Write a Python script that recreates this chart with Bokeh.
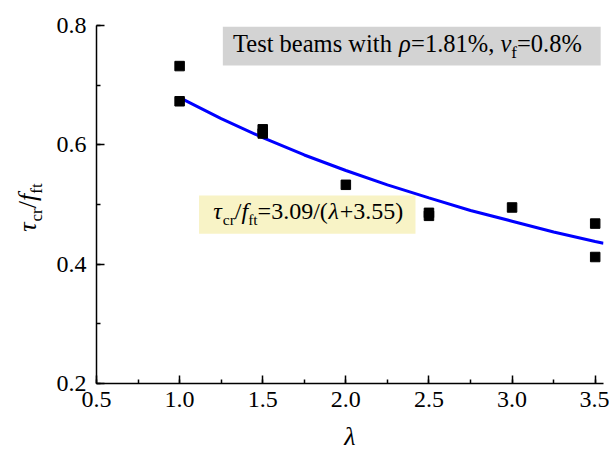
import math
from bokeh.plotting import figure
from bokeh.models import Label, BoxAnnotation, SingleIntervalTicker, Range1d, PrintfTickFormatter
from bokeh.layouts import row
from bokeh.embed import file_html
from bokeh.resources import INLINE

# ---- data ----
lam_pts = [1.0, 1.0, 1.5, 1.5, 2.0, 2.5, 2.5, 3.0, 3.5, 3.5]
ratio_pts = [0.732, 0.673, 0.626, 0.619, 0.533, 0.486, 0.481, 0.495, 0.468, 0.412]

# fitted curve tau_cr/f_ft = 3.09/(lambda+3.55)
fit_lam = [1.0, 1.25, 1.5, 1.75, 2.0, 2.25, 2.5, 2.75, 3.0, 3.25, 3.5, 3.55]
fit_val = [0.679, 0.644, 0.612, 0.583, 0.557, 0.533, 0.511, 0.490, 0.472, 0.454, 0.438, 0.435]

x_ticks = [0.5, 1.0, 1.5, 2.0, 2.5, 3.0, 3.5]
y_ticks = [0.2, 0.4, 0.6, 0.8]

FONT = "'Liberation Serif', 'Times New Roman', serif"
LW = 50  # width of the strip holding the rotated y title

p = figure(width=609 - LW, height=454, output_backend="svg", toolbar_location=None,
           x_range=Range1d(0.5, 3.55), y_range=Range1d(0.2, 0.8),
           min_border_left=96 - LW, min_border_right=6, min_border_top=25, min_border_bottom=71)
p.outline_line_color = None
p.xgrid.visible = False
p.ygrid.visible = False

p.line(fit_lam, fit_val, line_color="#0000FF", line_width=3)
p.scatter(lam_pts, ratio_pts, marker="square", size=9.5, fill_color="black", line_color="black")

for ax, ticks in ((p.xaxis[0], x_ticks), (p.yaxis[0], y_ticks)):
    ax.ticker = SingleIntervalTicker(interval=ticks[1] - ticks[0], num_minor_ticks=2)
    ax.formatter = PrintfTickFormatter(format="%.1f")
    ax.major_tick_in = 8
    ax.major_tick_out = 0
    ax.minor_tick_in = 4
    ax.minor_tick_out = 0
    ax.axis_line_color = "black"
    ax.axis_line_width = 1.5
    ax.major_tick_line_width = 1.5
    ax.minor_tick_line_width = 1.5
    ax.major_tick_line_color = "black"
    ax.minor_tick_line_color = "black"
    ax.major_label_text_font = FONT
    ax.major_label_text_font_size = "24px"
    ax.major_label_text_color = "black"

p.xaxis[0].major_label_standoff = 8
p.yaxis[0].major_label_standoff = 10
p.xaxis[0].axis_label = "λ"
p.xaxis[0].axis_label_text_font = FONT
p.xaxis[0].axis_label_text_font_style = "italic"
p.xaxis[0].axis_label_text_font_size = "26px"
p.xaxis[0].axis_label_standoff = 12
p.xaxis[0].axis_label_text_color = "black"

# annotation boxes
p.add_layout(BoxAnnotation(left=1.26, right=3.533, top=0.798, bottom=0.733,
                           fill_color="#D3D3D3", fill_alpha=1, line_color=None, level="underlay"))
p.add_layout(BoxAnnotation(left=1.117, right=2.419, top=0.515, bottom=0.451,
                           fill_color="#F8F3C6", fill_alpha=1, line_color=None, level="underlay"))

# approximate advance widths (em/1000) for Times-metric font
W = {"T": 611, "e": 444, "s": 389, "t": 278, " ": 250, "b": 500, "a": 444, "m": 778,
     "w": 722, "i": 278, "h": 500, "=": 564, ".": 250, "%": 833, ",": 250, "/": 278,
     "(": 333, ")": 333, "+": 564, "f": 333, "c": 444, "r": 333, "v": 444,
     "ρ": 500, "τ": 440, "λ": 500}
for d in "0123456789":
    W[d] = 500
MID = 0.3375  # distance middle -> baseline, in em


def width(txt, size, italic=False):
    tot = 0
    for ch in txt:
        w = W.get(ch, 500)
        if italic and ch == "f":
            w = 278
        tot += w
    return tot * size / 1000.0


def rich(fig, x, y, segs, main, angle=0.0):
    """x, y: data anchor = text start on the main-text middle line."""
    pos = 0.0
    for txt, italic, size, shift in segs:
        w = width(txt, size, italic)
        perp = main * MID + shift - size * MID
        along = pos + w / 2.0
        if angle == 0.0:
            xo, yo = along, -perp
        else:
            xo, yo = perp, along
        fig.add_layout(Label(x=x, y=y, x_offset=xo, y_offset=yo, text=txt, angle=angle,
                             text_font=FONT, text_font_size=f"{size}px",
                             text_font_style="italic" if italic else "normal",
                             text_color="black", text_align="center", text_baseline="middle"))
        pos += w


S, SS, SH = 24.5, 17, 6
rich(p, 1.316, 0.769, [("Test beams with ", False, S, 0), ("ρ", True, S, 0), ("=1.81%, ", False, S, 0),
                       ("v", True, S, 0), ("f", False, SS, SH), ("=0.8%", False, S, 0)], S)
rich(p, 1.196, 0.4895, [("τ", True, 24, 0), ("cr", False, 15.5, SH), ("/", False, 24, 0), ("f", True, 24, 0),
                        ("ft", False, 15.5, SH), ("=3.09/(", False, 24, 0), ("λ", True, 24, 0),
                        ("+3.55)", False, 24, 0)], 24)

# strip on the left carrying the rotated y-axis title (pixel-like coordinates)
t = figure(width=LW, height=454, output_backend="svg", toolbar_location=None,
           x_range=Range1d(0, LW), y_range=Range1d(0, 454),
           x_axis_type=None, y_axis_type=None, min_border=0)
t.outline_line_color = None
t.xgrid.visible = False
t.ygrid.visible = False
rich(t, 27, 191, [("τ", True, 26, 0), ("cr", False, SS, SH), ("/", False, 26, 0), ("f", True, 26, 0),
                  ("ft", False, SS, SH)], 26, angle=math.pi / 2)

layout = row(t, p)
open("out.html", "w").write(file_html(layout, INLINE))
